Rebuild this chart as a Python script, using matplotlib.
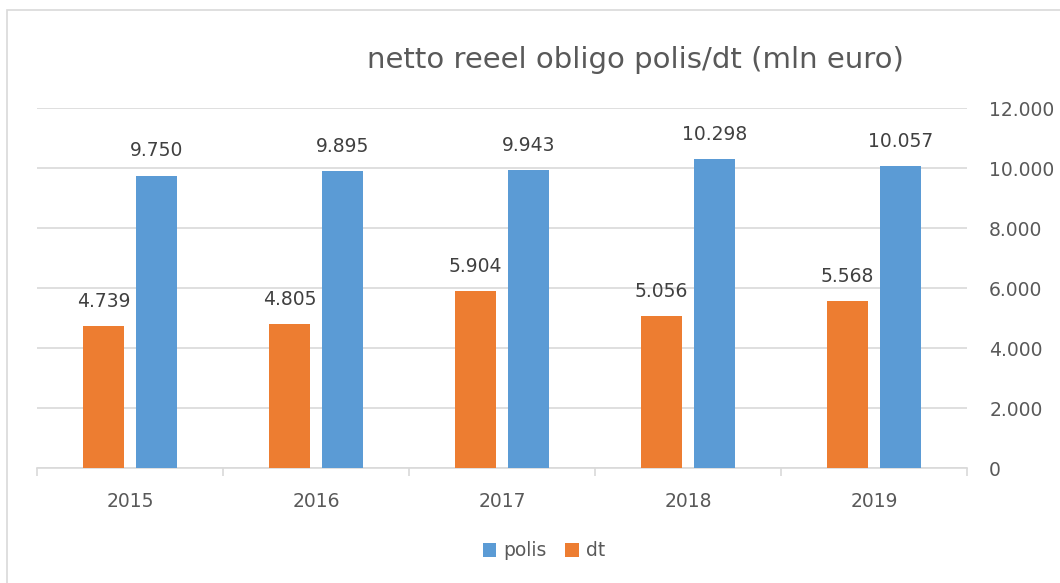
import matplotlib.pyplot as plt
import numpy as np
from matplotlib.patches import Rectangle

years = ['2015', '2016', '2017', '2018', '2019']
polis = [9750, 9895, 9943, 10298, 10057]
dt = [4739, 4805, 5904, 5056, 5568]
yticks = [0, 2000, 4000, 6000, 8000, 10000, 12000]

blue = '#5B9BD5'
orange = '#ED7D31'
grey = '#595959'

plt.rcParams['font.family'] = ['DejaVu Sans']

fig = plt.figure(figsize=(10.6, 5.83), dpi=100)
# chart border (cut off at right and bottom like the screenshot)
fig.patches.append(Rectangle((7 / 1060, -0.1), 1.2, 1 - 10 / 583 + 0.1,
                             transform=fig.transFigure, fill=False,
                             edgecolor='#D9D9D9', linewidth=1.2))

ax = fig.add_axes([37 / 1060, 1 - 468 / 583, 930 / 1060, 360 / 583])

x = np.arange(len(years))
w = 0.22
off = 0.1425
b1 = ax.bar(x - off, dt, w, color=orange, label='dt', zorder=3)
b2 = ax.bar(x + off, polis, w, color=blue, label='polis', zorder=3)

def fmt(v):
    return f'{v:,}'.replace(',', '.')

for bars, vals in [(b1, dt), (b2, polis)]:
    for r, v in zip(bars, vals):
        ax.text(r.get_x() + r.get_width() / 2, v + 500, fmt(v),
                ha='center', va='bottom', fontsize=13.5, color='#404040')

ax.set_xlim(-0.5, 4.5)
ax.set_ylim(0, 12000)
ax.yaxis.tick_right()
ax.set_yticks(yticks)
ax.set_yticklabels([fmt(v) for v in yticks])
ax.tick_params(axis='y', length=0, labelsize=13.5, labelcolor=grey, pad=16)
ax.grid(axis='y', color='#D9D9D9', linewidth=1.2, zorder=0)

ax.set_xticks(x)
ax.set_xticklabels(years)
ax.set_xticks(np.arange(-0.5, 5, 1), minor=True)
ax.tick_params(axis='x', which='major', length=0, labelsize=13.5,
               labelcolor=grey, pad=17)
ax.tick_params(axis='x', which='minor', length=6, color='#D9D9D9', width=1.2)

for s in ['top', 'left', 'right']:
    ax.spines[s].set_visible(False)
ax.spines['bottom'].set_color('#D9D9D9')
ax.spines['bottom'].set_linewidth(1.2)

fig.text(635 / 1060, 1 - 60 / 583, 'netto reeel obligo polis/dt (mln euro)',
         ha='center', va='center', fontsize=21, color=grey)

handles = [b2, b1]
fig.legend(handles, ['polis', 'dt'], loc='center', ncol=2,
           bbox_to_anchor=(544 / 1060, 1 - 551 / 583), frameon=False,
           fontsize=13.5, labelcolor=grey, handlelength=0.7, handleheight=0.7,
           handletextpad=0.4, columnspacing=1.0)

fig.savefig('out.png', dpi=100, facecolor='white')
